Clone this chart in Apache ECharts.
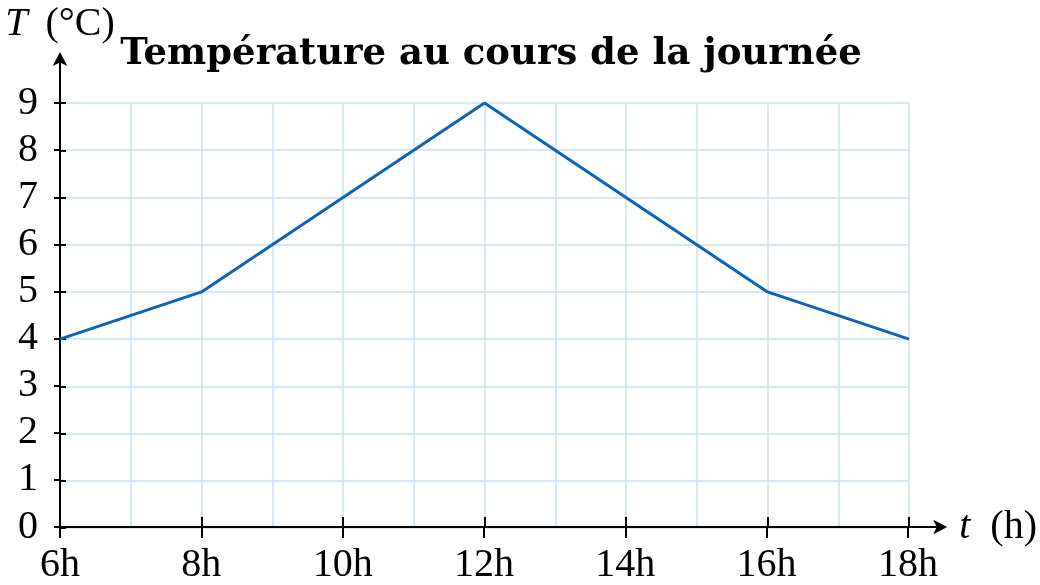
<!DOCTYPE html>
<html>
<head>
<meta charset="utf-8">
<script src="https://cdn.jsdelivr.net/npm/echarts@6/dist/echarts.min.js"></script>
<style>html,body{margin:0;padding:0;background:#fff}#c{width:1040px;height:585px}</style>
</head>
<body>
<div id="c"></div>
<script>
const hours = [6, 8, 10, 12, 14, 16, 18];
const temperatures = [4, 5, 7, 9, 7, 5, 4];
const xTickLabels = [6, 8, 10, 12, 14, 16, 18];
const yTickLabels = [0, 1, 2, 3, 4, 5, 6, 7, 8, 9];
const titleText = 'Température au cours de la journée';

const font = 'Liberation Serif';
const gridColor = '#cde0f3';
const lineColor = '#0a64b8';

const chart = echarts.init(document.getElementById('c'), null, {renderer: 'canvas'});
const hidden = {axisLine:{show:false}, axisTick:{show:false}, axisLabel:{show:false}};
const axisGrid = {left: 60, top: 56, width: 884.4, height: 472};
chart.setOption({
  animation: false,
  backgroundColor: '#fff',
  title: {
    text: titleText, left: 486, top: 31, textAlign: 'center',
    textStyle: {fontFamily: 'DejaVu Serif', fontWeight: 'bold', fontSize: 37, color: '#000'}
  },
  grid: [
    {left: 60, top: 103, width: 849, height: 425},
    axisGrid,
    Object.assign({}, axisGrid)
  ],
  xAxis: [
    Object.assign({type:'value', gridIndex:0, min:6, max:18, interval:1,
      splitLine:{show:true, lineStyle:{color:gridColor, width:1.5}}}, hidden),
    {type:'value', gridIndex:1, position:'bottom', min:6, max:18.5, interval:2,
      name: '{i|t}(h)', nameLocation:'end', nameGap: 16,
      nameTextStyle:{fontFamily:font, fontSize:40, color:'#000', verticalAlign:'middle',
        rich:{i:{fontFamily:font, fontStyle:'italic', fontSize:40, color:'#000', padding:[0,20,0,0]}}},
      axisLine:{show:true, symbol:['none','arrow'], symbolSize:[11,14], symbolOffset:[0,4],
        lineStyle:{color:'#000', width:2}},
      axisTick:{show:true, customValues: xTickLabels, length:11, lineStyle:{color:'#000', width:2}},
      axisLabel:{show:true, customValues: xTickLabels, margin:18, formatter: v => v + 'h',
        fontFamily:font, fontSize:40, color:'#000'},
      splitLine:{show:false}},
    {type:'value', gridIndex:2, position:'bottom', min:6, max:18.5, interval:2,
      axisLine:{show:false},
      axisTick:{show:true, inside:true, customValues: xTickLabels, length:11, lineStyle:{color:'#000', width:2}},
      axisLabel:{show:false}, splitLine:{show:false}}
  ],
  yAxis: [
    Object.assign({type:'value', gridIndex:0, min:0, max:9, interval:1,
      splitLine:{show:true, lineStyle:{color:gridColor, width:1.5}}}, hidden),
    {type:'value', gridIndex:1, position:'left', min:0, max:10, interval:1,
      name: '{i|T}(°C)', nameLocation:'end', nameGap: 12,
      nameTextStyle:{fontFamily:font, fontSize:40, color:'#000', align:'center',
        rich:{i:{fontFamily:font, fontStyle:'italic', fontSize:40, color:'#000', padding:[0,18,0,0]}}},
      axisLine:{show:true, symbol:['none','arrow'], symbolSize:[11,14], symbolOffset:[0,4],
        lineStyle:{color:'#000', width:2}},
      axisTick:{show:true, customValues: yTickLabels, length:6, lineStyle:{color:'#000', width:2}},
      axisLabel:{show:true, customValues: yTickLabels, margin:22,
        fontFamily:font, fontSize:40, color:'#000'},
      splitLine:{show:false}},
    {type:'value', gridIndex:2, position:'left', min:0, max:10, interval:1,
      axisLine:{show:false},
      axisTick:{show:true, inside:true, customValues: yTickLabels, length:6, lineStyle:{color:'#000', width:2}},
      axisLabel:{show:false}, splitLine:{show:false}}
  ],
  series: [{
    type:'line', xAxisIndex:0, yAxisIndex:0,
    data: hours.map((h, i) => [h, temperatures[i]]),
    showSymbol:false, symbol:'none',
    lineStyle:{color:lineColor, width:3}, z: 3
  }]
});
</script>
</body>
</html>
